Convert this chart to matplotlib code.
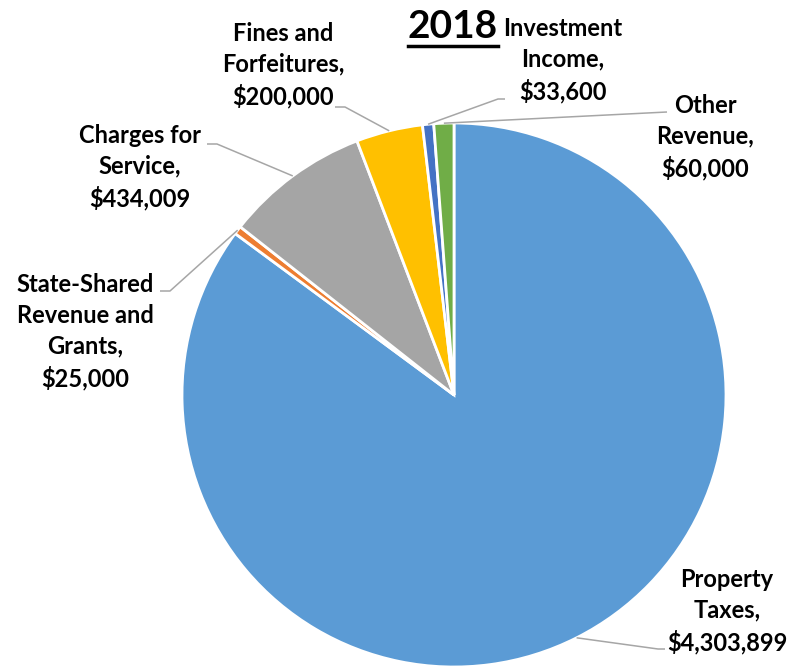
import matplotlib
matplotlib.use("Agg")
import matplotlib.pyplot as plt
import numpy as np
from matplotlib.lines import Line2D

title = "2018"
categories = ["Property\nTaxes", "State-Shared\nRevenue and\nGrants", "Charges for\nService",
              "Fines and\nForfeitures", "Investment\nIncome", "Other\nRevenue"]
values = [4303899, 25000, 434009, 200000, 33600, 60000]
colors = ["#5B9BD5", "#ED7D31", "#A5A5A5", "#FFC000", "#4472C4", "#70AD47"]

plt.rcParams['font.family'] = ['Lato', 'DejaVu Sans']

W, H = 790, 668
CX, CY, R = 454, 395, 272
fig = plt.figure(figsize=(W / 100, H / 100), dpi=100)
ax = fig.add_axes([0, 0, 1, 1])

def px(x, y):
    return ((x - CX) / R, (CY - y) / R)

wedges, _ = ax.pie(values, colors=colors, startangle=90, counterclock=False, radius=1,
                   center=(0, 0), wedgeprops=dict(edgecolor="white", linewidth=2))
ax.set_xlim((0 - CX) / R, (W - CX) / R)
ax.set_ylim((CY - H) / R, (CY - 0) / R)
ax.set_aspect('auto')
ax.axis('off')

# label layout (pixel positions): elbow, line end, text centre
layout = [
    ((658, 649), (665, 649), (727, 611)),
    ((170, 291), (160, 291), (85, 332)),
    ((217, 144), (207, 144), (140, 167)),
    ((345, 107), (335, 107), (283, 65)),
    ((498, 99), (505, 99), (563, 60)),
    ((667, 112), (667, 112), (705, 137)),
]

for w, name, val, (elbow, end, tc) in zip(wedges, categories, values, layout):
    ang = np.deg2rad((w.theta1 + w.theta2) / 2)
    sx, sy = np.cos(ang), np.sin(ang)
    ex, ey = px(*elbow)
    fx, fy = px(*end)
    ax.plot([sx, ex, fx], [sy, ey, fy], color="#A6A6A6", linewidth=1.1, zorder=3,
            solid_capstyle='butt')
    tx, ty = px(*tc)
    ax.text(tx, ty, f"{name},\n${val:,}", ha="center", va="center", fontsize=17,
            fontweight="bold", linespacing=1.4, color="black", zorder=4)

t = fig.text(453 / W, 1 - 26 / H, title, ha="center", va="center", fontsize=28,
             fontweight="bold", color="black", zorder=10)
fig.canvas.draw()
bb = t.get_window_extent()
fig.add_artist(Line2D([bb.x0 / W, bb.x1 / W], [1 - 46 / H, 1 - 46 / H],
                      transform=fig.transFigure, color="black", linewidth=2.5))

fig.savefig("out.png", dpi=100)
